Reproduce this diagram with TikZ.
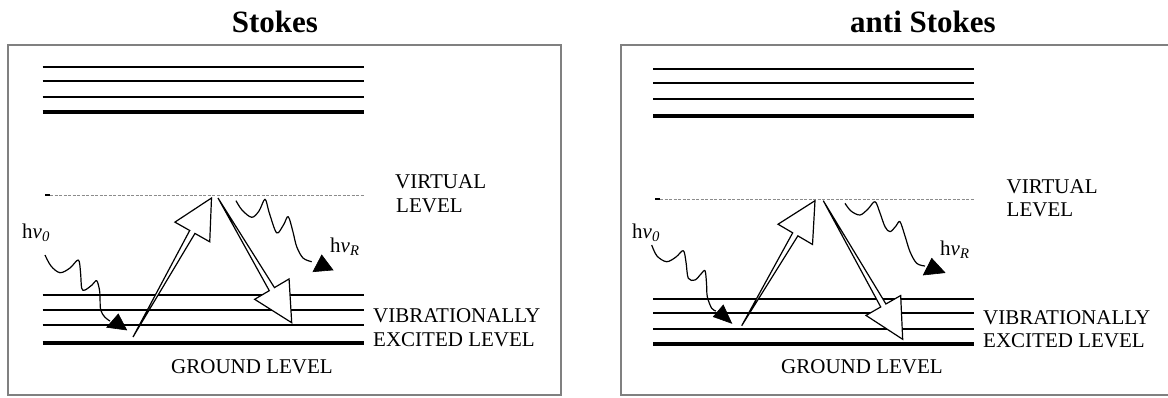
\documentclass[tikz,border=0pt]{standalone}
\usepackage{fontspec}
\setmainfont{Liberation Serif}
\usetikzlibrary{calc}
\newcommand\myharrow[3]{%
  \coordinate (#1t) at #2; \coordinate (#1p) at #3;
  \coordinate (#1b) at ($(#1p)!39pt!(#1t)$);
  \draw[harrow] (#1t) -- ($(#1b)!3pt!90:(#1p)$) -- ($(#1b)!20pt!90:(#1p)$) -- (#1p)
     -- ($(#1b)!20pt!-90:(#1p)$) -- ($(#1b)!3pt!-90:(#1p)$) -- cycle;}
\begin{document}
\begin{tikzpicture}[x=1pt,y=-1pt,
  lvl/.style={line width=1.9pt},
  lvlthick/.style={line width=4pt},
  virt/.style={line width=0.7pt, black!45, dash pattern=on 3pt off 1.5pt},
  tick/.style={line width=1.6pt},
  frame/.style={line width=2pt, black!50},
  wave/.style={line width=1.2pt, line join=round},
  whead/.style={fill=black, draw=black, line width=0.6pt},
  harrow/.style={line width=1.2pt, fill=white, line join=miter},
  lab/.style={font=\fontsize{21}{22}\selectfont, inner sep=0pt, anchor=base west},
  ttl/.style={font=\fontsize{31}{33}\selectfont\bfseries, inner sep=0pt, anchor=base},
]
\useasboundingbox (0,0) rectangle (1168,397);
\clip (0,0) rectangle (1168,397);

% ---------------- Stokes (left) ----------------
\node[ttl] (t1) at (275,32) {Stokes};
\draw[frame] (8,45) rectangle (561,395);
\foreach \y in {67,81,97} \draw[lvl] (42.5,\y) -- (364,\y);
\draw[lvlthick] (42.5,112) -- (364,112);
\foreach \y in {295,310,325} \draw[lvl] (42.5,\y) -- (364,\y);
\draw[lvlthick] (42.5,342.5) -- (364,342.5);
\draw[tick] (45,195) -- (50,195);
\draw[virt] (50,195) -- (364,195);

\node[lab] (v1a) at (395,188) {VIRTUAL};
\node[lab] (v1b) at (396,212) {LEVEL};
\node[lab] (x1a) at (373,322) {VIBRATIONALLY};
\node[lab] (x1b) at (373,346) {EXCITED LEVEL};
\node[lab, anchor=base] (g1) at (252,373) {GROUND LEVEL};
\node[lab] (h01) at (22,238) {h\textit{v}\textsubscript{\textit{0}}};
\node[lab] (hR1) at (330,252) {h\textit{v}\textsubscript{\textit{R}}};

\draw[wave] plot[smooth, tension=0.55] coordinates {(45,255) (51,266) (60,272.7) (70,268) (78.3,260) (80.5,272) (81.7,288.3) (85,290) (92,285) (96.7,280.7) (99.5,290) (100,297) (100.7,310) (105,317.3) (110,321)};
\fill[whead] (118.3,314) -- (106.7,327.3) -- (126.7,330) -- cycle;

\draw[wave] plot[smooth, tension=0.55] coordinates {(236,200.7) (242,210) (251.7,217.3) (259,211) (265,199.3) (269,212) (275,230) (278.3,232.7) (284,224) (288.3,216.7) (293,232) (296.7,246.7) (303,258) (311.7,261.7)};
\fill[whead] (321.7,255) -- (313,271.7) -- (333,270) -- cycle;

\myharrow{ua}{(133,337)}{(211.5,198)}
\myharrow{da}{(218,198)}{(291.7,322.7)}

% ---------------- anti Stokes (right) ----------------
\node[ttl] (t2) at (923,32) {anti Stokes};
\draw[frame] (621,45) rectangle (1185,395);
\foreach \y in {69,83,99} \draw[lvl] (653,\y) -- (974,\y);
\draw[lvlthick] (653,116) -- (974,116);
\foreach \y in {299,313,329} \draw[lvl] (653,\y) -- (974,\y);
\draw[lvlthick] (653,344.3) -- (974,344.3);
\draw[tick] (655,199) -- (660,199);
\draw[virt] (660,199) -- (974,199);

\node[lab] (v2a) at (1006.5,193) {VIRTUAL};
\node[lab] (v2b) at (1006.5,216) {LEVEL};
\node[lab] (x2a) at (983,324) {VIBRATIONALLY};
\node[lab] (x2b) at (983,347) {EXCITED LEVEL};
\node[lab, anchor=base] (g2) at (862,373) {GROUND LEVEL};
\node[lab] (h02) at (632,238) {h\textit{v}\textsubscript{\textit{0}}};
\node[lab] (hR2) at (940,255) {h\textit{v}\textsubscript{\textit{R}}};

\draw[wave] plot[smooth, tension=0.55] coordinates {(651.7,245) (657,256) (666.7,261.7) (676,257) (683.3,250.7) (686,262) (688.3,278.3) (695,280) (701,274) (705,270.7) (706.5,283) (707.3,296.7) (711.7,308.3) (716,311)};
\fill[whead] (723.3,305) -- (713.3,316.7) -- (731.7,323.3) -- cycle;

\draw[wave] plot[smooth, tension=0.55] coordinates {(845,203.3) (851,211) (860,215) (868,209) (875,201.7) (880,213) (885,226.7) (890,231.7) (896,226) (900,221.7) (905,236) (910,251.7) (916.7,263.3) (925,266)};
\fill[whead] (931.7,258.3) -- (923.3,275) -- (945,272.7) -- cycle;

\myharrow{ub}{(741.7,325.7)}{(815,200.7)}
\myharrow{db}{(823.3,200.7)}{(902.7,339.3)}
\end{tikzpicture}
\end{document}
